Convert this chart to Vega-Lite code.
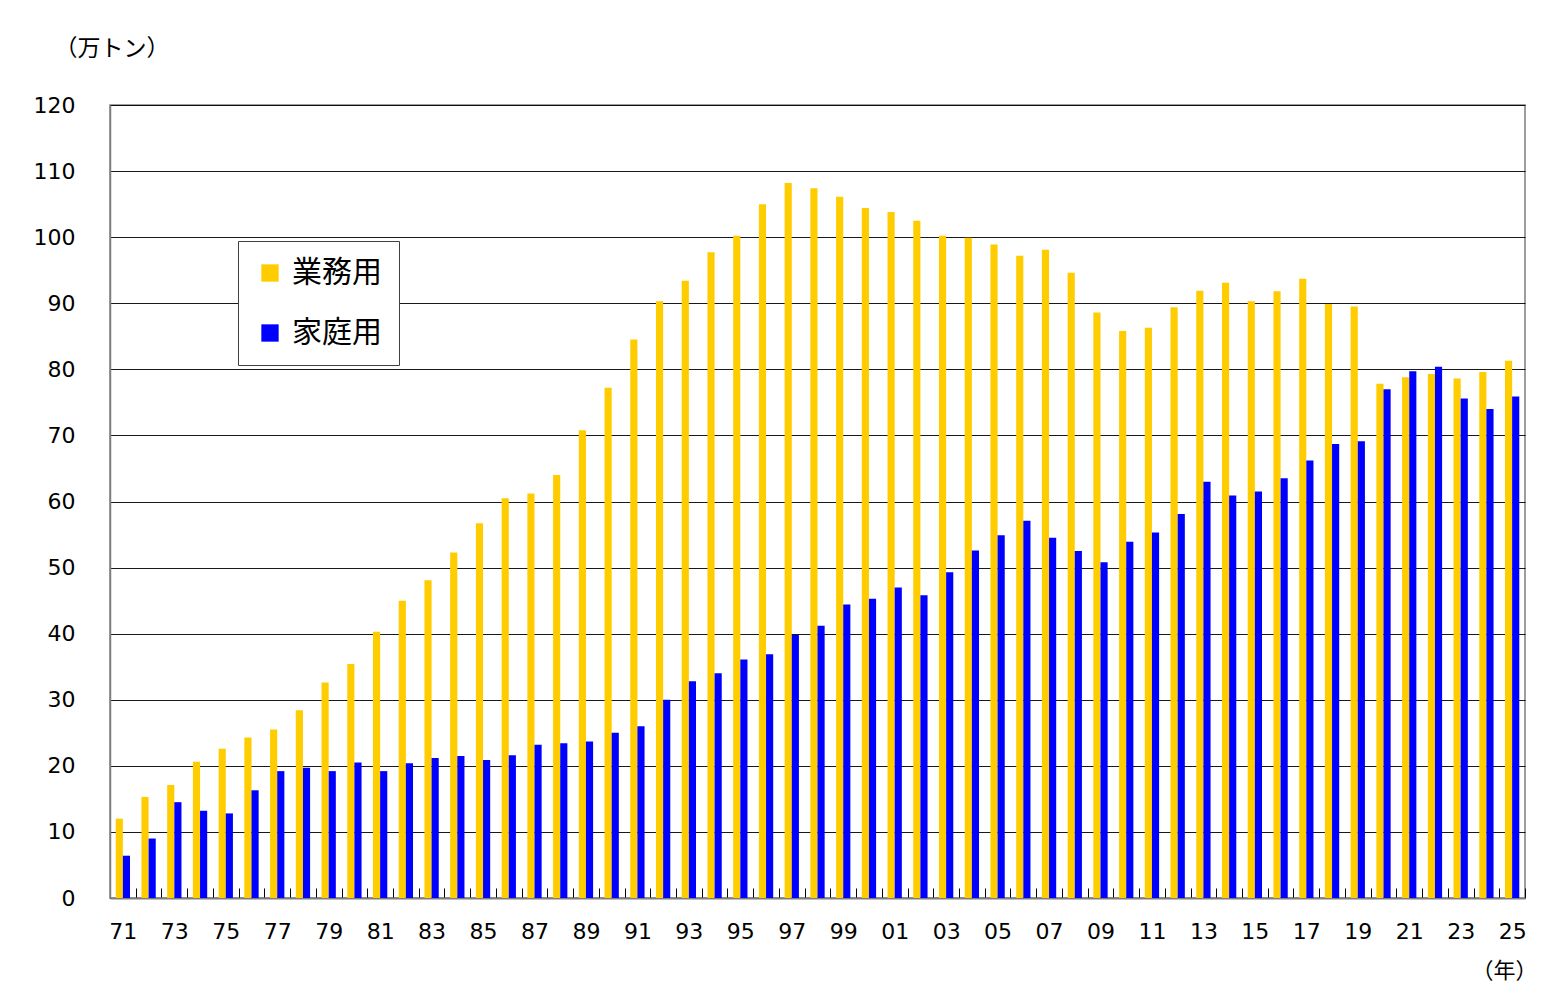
{
  "$schema": "https://vega.github.io/schema/vega-lite/v6.json",
  "autosize": {"type": "none"},
  "padding": {"left": 110, "top": 105, "right": 27, "bottom": 104},
  "width": 1415,
  "height": 793,
  "background": "white",
  "data": {
    "values": [
      {"year": 1971, "use": "業務用", "value": 12.0}, {"year": 1971, "use": "家庭用", "value": 6.4},
      {"year": 1972, "use": "業務用", "value": 15.3}, {"year": 1972, "use": "家庭用", "value": 9.0},
      {"year": 1973, "use": "業務用", "value": 17.1}, {"year": 1973, "use": "家庭用", "value": 14.5},
      {"year": 1974, "use": "業務用", "value": 20.6}, {"year": 1974, "use": "家庭用", "value": 13.2},
      {"year": 1975, "use": "業務用", "value": 22.6}, {"year": 1975, "use": "家庭用", "value": 12.8},
      {"year": 1976, "use": "業務用", "value": 24.3}, {"year": 1976, "use": "家庭用", "value": 16.3},
      {"year": 1977, "use": "業務用", "value": 25.5}, {"year": 1977, "use": "家庭用", "value": 19.2},
      {"year": 1978, "use": "業務用", "value": 28.4}, {"year": 1978, "use": "家庭用", "value": 19.7},
      {"year": 1979, "use": "業務用", "value": 32.6}, {"year": 1979, "use": "家庭用", "value": 19.2},
      {"year": 1980, "use": "業務用", "value": 35.4}, {"year": 1980, "use": "家庭用", "value": 20.5},
      {"year": 1981, "use": "業務用", "value": 40.3}, {"year": 1981, "use": "家庭用", "value": 19.2},
      {"year": 1982, "use": "業務用", "value": 45.0}, {"year": 1982, "use": "家庭用", "value": 20.4},
      {"year": 1983, "use": "業務用", "value": 48.1}, {"year": 1983, "use": "家庭用", "value": 21.2},
      {"year": 1984, "use": "業務用", "value": 52.3}, {"year": 1984, "use": "家庭用", "value": 21.5},
      {"year": 1985, "use": "業務用", "value": 56.7}, {"year": 1985, "use": "家庭用", "value": 20.9},
      {"year": 1986, "use": "業務用", "value": 60.5}, {"year": 1986, "use": "家庭用", "value": 21.6},
      {"year": 1987, "use": "業務用", "value": 61.2}, {"year": 1987, "use": "家庭用", "value": 23.2},
      {"year": 1988, "use": "業務用", "value": 64.0}, {"year": 1988, "use": "家庭用", "value": 23.4},
      {"year": 1989, "use": "業務用", "value": 70.8}, {"year": 1989, "use": "家庭用", "value": 23.7},
      {"year": 1990, "use": "業務用", "value": 77.2}, {"year": 1990, "use": "家庭用", "value": 25.0},
      {"year": 1991, "use": "業務用", "value": 84.5}, {"year": 1991, "use": "家庭用", "value": 26.0},
      {"year": 1992, "use": "業務用", "value": 90.3}, {"year": 1992, "use": "家庭用", "value": 30.0},
      {"year": 1993, "use": "業務用", "value": 93.4}, {"year": 1993, "use": "家庭用", "value": 32.8},
      {"year": 1994, "use": "業務用", "value": 97.7}, {"year": 1994, "use": "家庭用", "value": 34.0},
      {"year": 1995, "use": "業務用", "value": 100.2}, {"year": 1995, "use": "家庭用", "value": 36.1},
      {"year": 1996, "use": "業務用", "value": 105.0}, {"year": 1996, "use": "家庭用", "value": 36.9},
      {"year": 1997, "use": "業務用", "value": 108.2}, {"year": 1997, "use": "家庭用", "value": 39.8},
      {"year": 1998, "use": "業務用", "value": 107.4}, {"year": 1998, "use": "家庭用", "value": 41.2},
      {"year": 1999, "use": "業務用", "value": 106.1}, {"year": 1999, "use": "家庭用", "value": 44.4},
      {"year": 2000, "use": "業務用", "value": 104.4}, {"year": 2000, "use": "家庭用", "value": 45.3},
      {"year": 2001, "use": "業務用", "value": 103.8}, {"year": 2001, "use": "家庭用", "value": 47.0},
      {"year": 2002, "use": "業務用", "value": 102.5}, {"year": 2002, "use": "家庭用", "value": 45.8},
      {"year": 2003, "use": "業務用", "value": 100.2}, {"year": 2003, "use": "家庭用", "value": 49.3},
      {"year": 2004, "use": "業務用", "value": 99.9}, {"year": 2004, "use": "家庭用", "value": 52.6},
      {"year": 2005, "use": "業務用", "value": 98.9}, {"year": 2005, "use": "家庭用", "value": 54.9},
      {"year": 2006, "use": "業務用", "value": 97.2}, {"year": 2006, "use": "家庭用", "value": 57.1},
      {"year": 2007, "use": "業務用", "value": 98.1}, {"year": 2007, "use": "家庭用", "value": 54.5},
      {"year": 2008, "use": "業務用", "value": 94.6}, {"year": 2008, "use": "家庭用", "value": 52.5},
      {"year": 2009, "use": "業務用", "value": 88.6}, {"year": 2009, "use": "家庭用", "value": 50.8},
      {"year": 2010, "use": "業務用", "value": 85.8}, {"year": 2010, "use": "家庭用", "value": 53.9},
      {"year": 2011, "use": "業務用", "value": 86.3}, {"year": 2011, "use": "家庭用", "value": 55.3},
      {"year": 2012, "use": "業務用", "value": 89.4}, {"year": 2012, "use": "家庭用", "value": 58.1},
      {"year": 2013, "use": "業務用", "value": 91.9}, {"year": 2013, "use": "家庭用", "value": 63.0},
      {"year": 2014, "use": "業務用", "value": 93.1}, {"year": 2014, "use": "家庭用", "value": 60.9},
      {"year": 2015, "use": "業務用", "value": 90.3}, {"year": 2015, "use": "家庭用", "value": 61.5},
      {"year": 2016, "use": "業務用", "value": 91.8}, {"year": 2016, "use": "家庭用", "value": 63.5},
      {"year": 2017, "use": "業務用", "value": 93.7}, {"year": 2017, "use": "家庭用", "value": 66.2},
      {"year": 2018, "use": "業務用", "value": 89.9}, {"year": 2018, "use": "家庭用", "value": 68.7},
      {"year": 2019, "use": "業務用", "value": 89.5}, {"year": 2019, "use": "家庭用", "value": 69.1},
      {"year": 2020, "use": "業務用", "value": 77.8}, {"year": 2020, "use": "家庭用", "value": 77.0},
      {"year": 2021, "use": "業務用", "value": 78.8}, {"year": 2021, "use": "家庭用", "value": 79.7},
      {"year": 2022, "use": "業務用", "value": 79.3}, {"year": 2022, "use": "家庭用", "value": 80.4},
      {"year": 2023, "use": "業務用", "value": 78.6}, {"year": 2023, "use": "家庭用", "value": 75.6},
      {"year": 2024, "use": "業務用", "value": 79.6}, {"year": 2024, "use": "家庭用", "value": 74.0},
      {"year": 2025, "use": "業務用", "value": 81.3}, {"year": 2025, "use": "家庭用", "value": 75.9}
    ]
  },
  "mark": {"type": "bar"},
  "encoding": {
    "x": {
      "field": "year",
      "type": "ordinal",
      "scale": {"paddingInner": 0, "paddingOuter": 0},
      "title": "（年）",
      "axis": {
        "labelAngle": 0,
        "labelExpr": "datum.value % 2 == 1 ? substring(toString(datum.value), 2) : ''",
        "tickBand": "extent",
        "tickSize": -10,
        "tickColor": "#000000",
        "labelPadding": 33,
        "labelFontSize": 22,
        "labelColor": "#000000",
        "labelFont": "DejaVu Sans",
        "domainColor": "#7f7f7f",
        "domainWidth": 2,
        "titleFont": "Noto Sans CJK JP",
        "titleFontSize": 22,
        "titleFontWeight": "normal",
        "titleAlign": "right",
        "titleAnchor": "end",
        "titleX": 1427,
        "titleY": 72,
        "titleBaseline": "middle"
      }
    },
    "xOffset": {
      "field": "use",
      "sort": ["業務用", "家庭用"],
      "scale": {"paddingOuter": 0.8}
    },
    "y": {
      "field": "value",
      "type": "quantitative",
      "scale": {"domain": [0, 120]},
      "title": "（万トン）",
      "axis": {
        "values": [0, 10, 20, 30, 40, 50, 60, 70, 80, 90, 100, 110, 120],
        "ticks": false,
        "labelPadding": 35,
        "labelFontSize": 22,
        "labelColor": "#000000",
        "labelFont": "DejaVu Sans",
        "gridColor": "#000000",
        "gridWidth": 1,
        "gridOpacity": 0.9,
        "domainColor": "#7f7f7f",
        "domainWidth": 1.5,
        "titleFont": "Noto Sans CJK JP",
        "titleFontSize": 23,
        "titleFontWeight": "normal",
        "titleAngle": 0,
        "titleAlign": "left",
        "titleX": -56,
        "titleY": -57,
        "titleBaseline": "middle"
      }
    },
    "color": {
      "field": "use",
      "type": "nominal",
      "sort": ["業務用", "家庭用"],
      "scale": {"domain": ["業務用", "家庭用"], "range": ["#FFCC00", "#0000FF"]},
      "legend": {
        "title": null,
        "orient": "none",
        "legendX": 128,
        "legendY": 136,
        "direction": "vertical",
        "symbolType": "square",
        "symbolSize": 300,
        "symbolStrokeWidth": 0,
        "labelFont": "Noto Sans CJK JP",
        "labelFontSize": 30,
        "labelColor": "#000000",
        "labelOffset": 7,
        "rowPadding": 30,
        "padding": 17,
        "strokeColor": "#404040",
        "fillColor": "white"
      }
    }
  },
  "config": {
    "view": {"stroke": "#7f7f7f", "strokeWidth": 1.5},
    "axis": {"grid": true},
    "axisX": {"grid": false}
  }
}
